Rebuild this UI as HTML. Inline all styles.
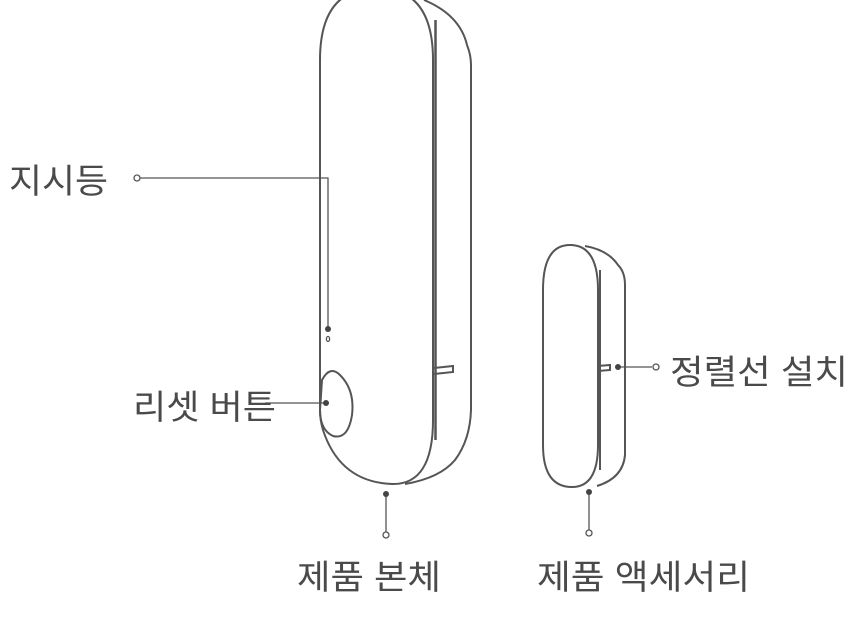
<!DOCTYPE html>
<html><head><meta charset="utf-8"><style>
html,body{margin:0;padding:0;background:#fff;width:866px;height:626px;overflow:hidden}
svg{display:block}
text{font-family:"Liberation Sans","Noto Sans CJK KR","NanumGothic",sans-serif;font-size:34px;fill:#4a4a4a}
</style></head><body>
<svg width="866" height="626" viewBox="0 0 866 626" xmlns="http://www.w3.org/2000/svg">
<g fill="none" stroke="#555" stroke-width="2">
<path d="M320,60 Q320,-12 377,-12 Q433,-12 433,60 L433,420 Q433,485 392,484 Q340,482 323,430 Q320,420 320,410 Z" fill="#fff"/>
<path d="M424,0 Q460,15 467,45 Q471,55 471,65 L471,410 Q470,440 455,460 Q440,478 405,484"/>
<line x1="435.5" y1="20" x2="435.5" y2="440" stroke-width="2.5"/>
<path d="M434,368 L453,366 L453,372 L434,374"/>
<path d="M322,380 Q330,365 340,375 Q355,390 352,415 Q348,440 333,436 Q320,430 320,410 Z"/>
<path d="M543,290 Q543,245 570,245 Q598,245 598,290 L598,445 Q598,487 572,487 Q543,487 543,445 Z" fill="#fff"/>
<path d="M585,246 Q608,250 618,265 Q625,272 625,285 L625,455 Q623,478 597,486"/>
<line x1="600" y1="270" x2="600" y2="470"/>
<path d="M598,366 L610,365 L610,370 L598,371"/>
</g>
<g stroke="#555" stroke-width="1.3" fill="none">
<polyline points="140,178 328,178 328,329"/>
<line x1="265" y1="403" x2="326" y2="403"/>
<line x1="618" y1="367" x2="652" y2="367"/>
<line x1="386" y1="494" x2="386" y2="532"/>
<line x1="589" y1="492" x2="589" y2="530"/>
<circle cx="137" cy="178" r="3" fill="#fff"/>
<circle cx="656" cy="367" r="3" fill="#fff"/>
<circle cx="386" cy="535" r="3" fill="#fff"/>
<circle cx="589" cy="533" r="3" fill="#fff"/>
<ellipse cx="328" cy="339" rx="1.6" ry="2.5"/>
</g>
<g fill="#444">
<circle cx="328" cy="329" r="3"/>
<circle cx="326" cy="403" r="3"/>
<circle cx="618" cy="367" r="3"/>
<circle cx="386" cy="494" r="3"/>
<circle cx="589" cy="492" r="3"/>
</g>
<text x="9" y="193" textLength="99" lengthAdjust="spacingAndGlyphs">지시등</text>
<text x="133" y="419" textLength="143" lengthAdjust="spacingAndGlyphs">리셋 버튼</text>
<text x="670" y="384" textLength="178" lengthAdjust="spacingAndGlyphs">정렬선 설치</text>
<text x="297" y="589" textLength="144" lengthAdjust="spacingAndGlyphs">제품 본체</text>
<text x="537" y="589" textLength="213" lengthAdjust="spacingAndGlyphs">제품 액세서리</text>
</svg>
</body></html>
